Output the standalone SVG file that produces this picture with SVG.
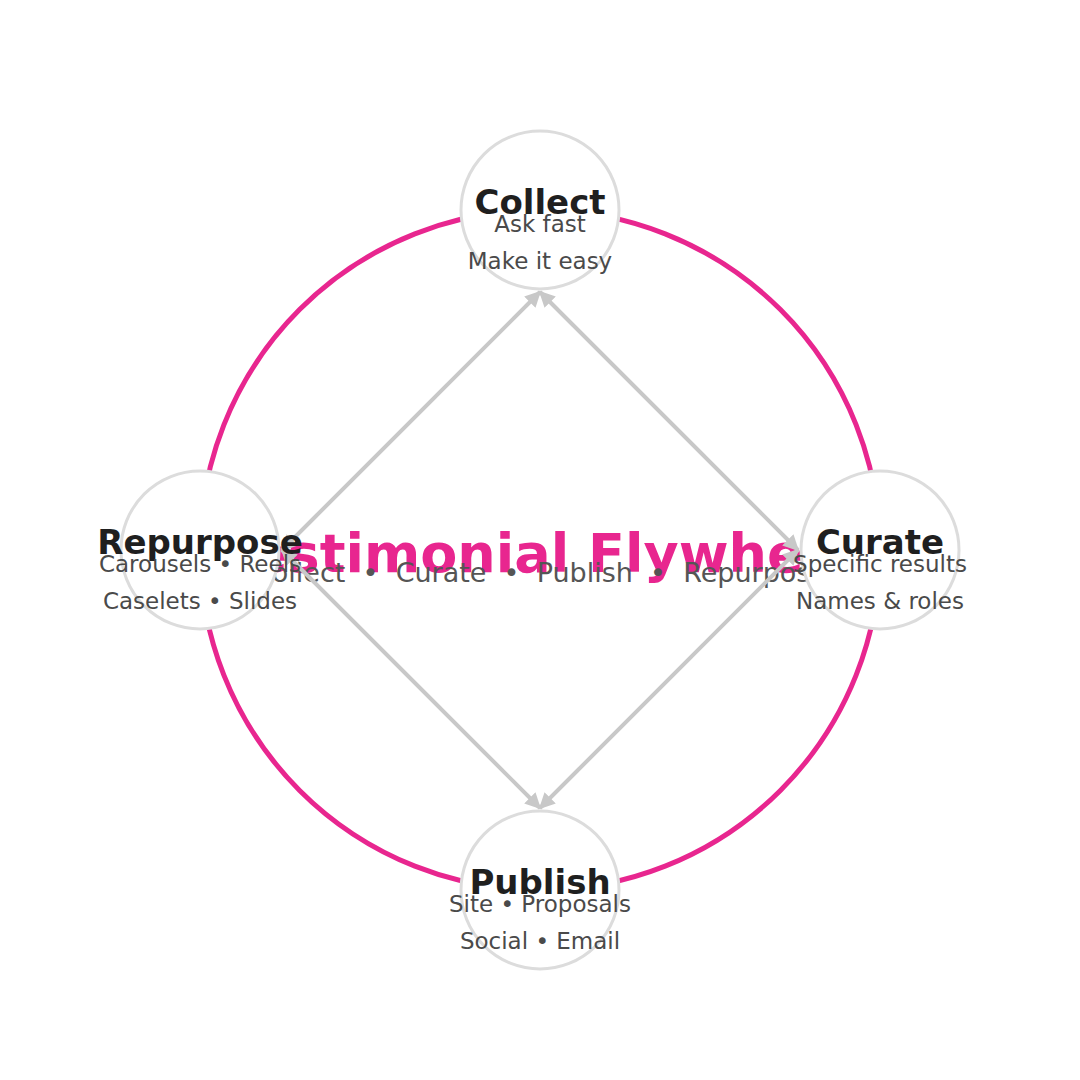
<svg xmlns="http://www.w3.org/2000/svg" width="1080" height="1080" viewBox="0 0 1080 1080">
<defs>
<style>
.ring{fill:none;stroke:#e8268f;stroke-width:5}
.title{font-family:"DejaVu Sans","Liberation Sans",sans-serif;font-weight:bold;font-size:54px;fill:#e8268f;text-anchor:middle}
.sub{font-family:"DejaVu Sans","Liberation Sans",sans-serif;font-size:27px;fill:#555;text-anchor:middle;white-space:pre}
.edge{stroke:#c8c8c8;stroke-width:4;fill:none;marker-start:url(#ah);marker-end:url(#ah)}
.node circle{fill:#fff;stroke:#dcdcdc;stroke-width:3}
.nt{font-family:"DejaVu Sans","Liberation Sans",sans-serif;font-weight:bold;font-size:34px;fill:#1f1f1f;text-anchor:middle}
.nd{font-family:"DejaVu Sans","Liberation Sans",sans-serif;font-size:23px;fill:#4a4a4a;text-anchor:middle}
</style>
<marker id="ah" viewBox="0 0 10 10" refX="9" refY="5" markerWidth="4" markerHeight="4" orient="auto-start-reverse" markerUnits="strokeWidth">
<path d="M0,0 L10,5 L0,10 z" fill="#c8c8c8"/>
</marker>
</defs>
<rect width="1080" height="1080" fill="#fff"/>
<circle class="ring" cx="540" cy="550" r="340"/>
<g id="center">
<text class="title" x="540" y="572">Testimonial Flywheel</text>
<text class="sub" x="540" y="582" xml:space="preserve">Collect  •  Curate  •  Publish  •  Repurpose</text>
</g>
<g id="connectors">
<line class="edge" x1="540" y1="292" x2="798" y2="550"/>
<line class="edge" x1="798" y1="550" x2="540" y2="808"/>
<line class="edge" x1="540" y1="808" x2="282" y2="550"/>
<line class="edge" x1="282" y1="550" x2="540" y2="292"/>
</g>
<g id="node-collect" class="node">
<circle cx="540" cy="210" r="79"/>
<text class="nt" x="540" y="214">Collect</text>
<text class="nd" x="540" y="232">Ask fast</text>
<text class="nd" x="540" y="269">Make it easy</text>
</g>
<g id="node-curate" class="node">
<circle cx="880" cy="550" r="79"/>
<text class="nt" x="880" y="554">Curate</text>
<text class="nd" x="880" y="572">Specific results</text>
<text class="nd" x="880" y="609">Names &amp; roles</text>
</g>
<g id="node-publish" class="node">
<circle cx="540" cy="890" r="79"/>
<text class="nt" x="540" y="894">Publish</text>
<text class="nd" x="540" y="912">Site • Proposals</text>
<text class="nd" x="540" y="949">Social • Email</text>
</g>
<g id="node-repurpose" class="node">
<circle cx="200" cy="550" r="79"/>
<text class="nt" x="200" y="554">Repurpose</text>
<text class="nd" x="200" y="572">Carousels • Reels</text>
<text class="nd" x="200" y="609">Caselets • Slides</text>
</g>
</svg>
